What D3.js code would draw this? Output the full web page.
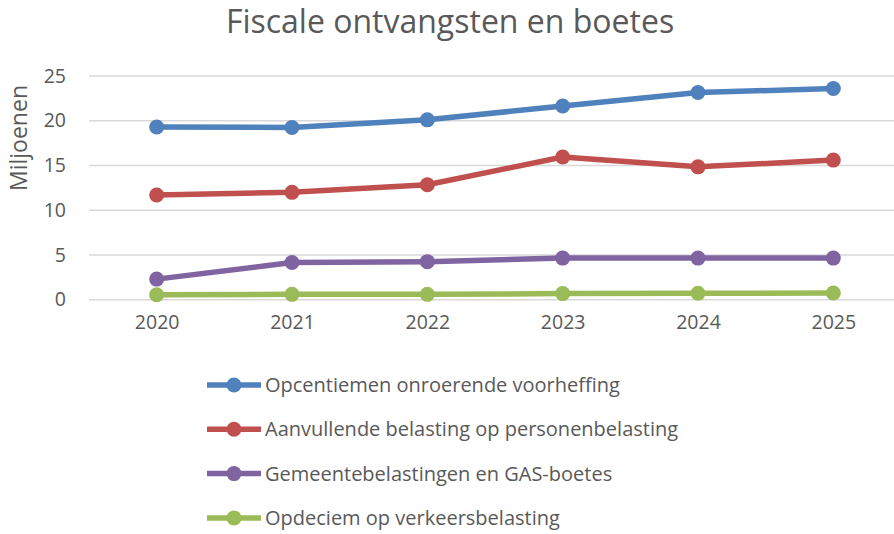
<!DOCTYPE html>
<html>
<head>
<meta charset="utf-8">
<script src="https://cdn.jsdelivr.net/npm/d3@7"></script>
<style>
  body { margin: 0; background: #fff; }
  text { font-family: "Open Sans", "Noto Sans", sans-serif; fill: #595959; }
</style>
</head>
<body>
<div id="chart"></div>
<script>
const years = ["2020", "2021", "2022", "2023", "2024", "2025"];
const seriesNames = [
  "Opcentiemen onroerende voorheffing",
  "Aanvullende belasting op personenbelasting",
  "Gemeentebelastingen en GAS-boetes",
  "Opdeciem op verkeersbelasting"
];
const opcentiemen = [19.3, 19.25, 20.1, 21.65, 23.15, 23.6];
const aanvullende = [11.7, 12.0, 12.85, 15.95, 14.85, 15.6];
const gemeente = [2.3, 4.15, 4.25, 4.65, 4.65, 4.65];
const opdeciem = [0.55, 0.6, 0.6, 0.68, 0.72, 0.75];
const yTicks = [0, 5, 10, 15, 20, 25];
const colors = ["#4F81BD", "#C0504D", "#8064A2", "#9BBB59"];

const seriesValues = [opcentiemen, aanvullende, gemeente, opdeciem];
const series = seriesNames.map((name, i) => ({name, color: colors[i], values: seriesValues[i]}));

const width = 894, height = 534;
const svg = d3.select("#chart").append("svg")
  .attr("width", width)
  .attr("height", height);

const x = d3.scalePoint().domain(years).range([89, 901]).padding(0.5);
const y = d3.scaleLinear().domain([0, 25]).range([299.7, 76]);

// title
svg.append("text")
  .attr("x", 450).attr("y", 33)
  .attr("text-anchor", "middle")
  .style("font-size", "32px")
  .text("Fiscale ontvangsten en boetes");

// gridlines
svg.append("g").selectAll("line")
  .data(yTicks)
  .join("line")
  .attr("x1", 89).attr("x2", 894)
  .attr("y1", d => y(d)).attr("y2", d => y(d))
  .attr("stroke", "#D9D9D9")
  .attr("stroke-width", 1.5);

// y axis labels
const yAxis = svg.append("g")
  .attr("transform", "translate(72,0)")
  .call(d3.axisLeft(y).tickValues(yTicks).tickSize(0).tickPadding(6));
yAxis.select(".domain").remove();
yAxis.selectAll("text").style("font-size", "19.5px").attr("fill", "#595959");

// x axis labels
const xAxis = svg.append("g")
  .attr("transform", "translate(0,309)")
  .call(d3.axisBottom(x).tickSize(0).tickPadding(6));
xAxis.select(".domain").remove();
xAxis.selectAll("text").style("font-size", "19.5px").attr("fill", "#595959");

// y axis title
svg.append("text")
  .attr("transform", "translate(27,138) rotate(-90)")
  .attr("text-anchor", "middle")
  .style("font-size", "23px")
  .text("Miljoenen");

const line = d3.line()
  .x((d, i) => x(years[i]))
  .y(d => y(d));

const g = svg.append("g");
series.forEach(s => {
  g.append("path")
    .attr("d", line(s.values))
    .attr("fill", "none")
    .attr("stroke", s.color)
    .attr("stroke-width", 5.5)
    .attr("stroke-linejoin", "round");
  g.selectAll(null)
    .data(s.values)
    .join("circle")
    .attr("cx", (d, i) => x(years[i]))
    .attr("cy", d => y(d))
    .attr("r", 7.5)
    .attr("fill", s.color);
});

// legend
const legend = svg.append("g").attr("transform", "translate(207,385)");
const rows = legend.selectAll("g")
  .data(series)
  .join("g")
  .attr("transform", (d, i) => `translate(0,${i * 44.3})`);
rows.append("line")
  .attr("x1", 0).attr("x2", 54)
  .attr("stroke", d => d.color)
  .attr("stroke-width", 5.5);
rows.append("circle")
  .attr("cx", 27).attr("r", 7.5)
  .attr("fill", d => d.color);
rows.append("text")
  .attr("x", 58)
  .attr("dy", "0.35em")
  .style("font-size", "20px")
  .text(d => d.name);
</script>
</body>
</html>
